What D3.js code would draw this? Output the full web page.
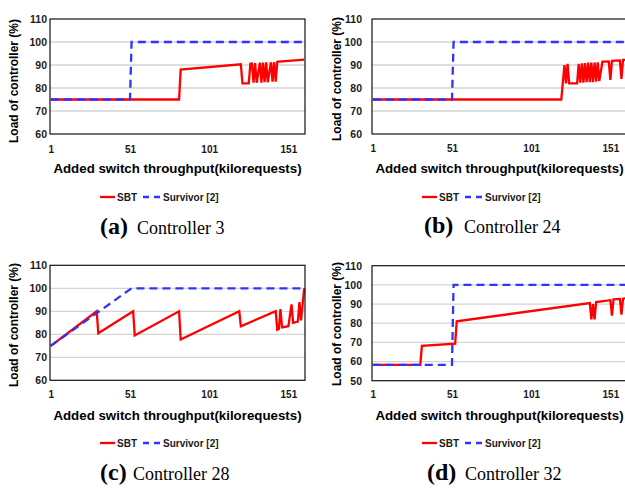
<!DOCTYPE html>
<html><head><meta charset="utf-8">
<script src="https://cdn.jsdelivr.net/npm/d3@7"></script>
<style>body{margin:0;background:#fff}</style>
</head><body><svg id="chart" width="625" height="488"></svg>
<script>
// ---------------- DATA ----------------
const categoryFirst = 1, categoryLast = 161;
const xTickLabels = [1, 51, 101, 151];
const yTicksA = [60, 70, 80, 90, 100, 110];
const yTicksB = [60, 70, 80, 90, 100, 110];
const yTicksC = [60, 70, 80, 90, 100, 110];
const yTicksD = [50, 60, 70, 80, 90, 100, 110];
const seriesNames = ["SBT", "Survivor [2]"];
const panelLetters = ["(a)", "(b)", "(c)", "(d)"];
const panelTitles = ["Controller 3", "Controller 24", "Controller 28", "Controller 32"];
const xTitle = "Added switch throughput(kilorequests)";
const yTitle = "Load of controller (%)";

// Controller 3
const sbtA_x = [1, 82, 83, 121, 122, 126, 127, 128, 129, 130, 131, 133, 134, 135, 136, 137, 138, 140, 141, 142, 143, 144, 145, 161];
const sbtA_y = [75, 75, 88, 90.3, 82, 82, 90.5, 90.6, 82.3, 90.8, 82.3, 91, 82.3, 91, 82.5, 91.2, 82.5, 91.2, 82.8, 91.3, 82.8, 91.4, 91.5, 92.3];
const survA_x = [1, 51, 52, 161];
const survA_y = [75, 75, 100, 100];

// Controller 24
const sbtB_x = [1, 120, 122, 123, 124, 125, 130, 131, 132, 133, 134, 135, 136, 137, 138, 139, 140, 141, 142, 143, 144, 146, 150, 151, 152, 157, 158, 159, 161];
const sbtB_y = [75, 75, 90, 82, 90.5, 82, 82, 90.5, 82.3, 90.7, 82.3, 90.8, 82.5, 91, 82.5, 91, 82.5, 91.1, 82.8, 91.2, 83, 91.5, 91.6, 83.5, 91.8, 92, 84, 92.2, 92.3];
const survB_x = [1, 51, 52, 161];
const survB_y = [75, 75, 100, 100];

// Controller 28
const sbtC_x = [1, 30, 31, 53, 54, 82, 83, 120, 121, 143, 144, 145, 146, 147, 151, 153, 154, 157, 158, 159, 161];
const sbtC_y = [75, 90, 80.5, 90, 79.5, 90, 77.7, 90, 83.5, 90, 82, 82.3, 91, 83, 83.5, 93, 85, 85.5, 94, 86, 100];
const survC_x = [1, 52, 161];
const survC_y = [75, 100, 100];

// Controller 32
const sbtD_x = [1, 31, 32, 53, 54, 138, 139, 140, 141, 142, 151, 152, 153, 157, 158, 159, 161];
const sbtD_y = [58.3, 58.3, 68.2, 69.3, 81, 90.5, 82, 90, 82, 91, 92, 84, 92.5, 92.7, 84.5, 92.8, 93];
const survD_x = [1, 51, 52, 161];
const survD_y = [58.3, 58.3, 100, 100];

// ---------------- LAYOUT ----------------
const panels = [
  {sx: sbtA_x, sy: sbtA_y, vx: survA_x, vy: survA_y, ticks: yTicksA, left: 50, top: 19, bottom: 134, ylabGap: 3, yTitleX: 14, yTitleY: 81, xTickBase: 153, xTitleBase: 173, legendY: 197, capBase: 234, capL: 100, capT: 137},
  {sx: sbtB_x, sy: sbtB_y, vx: survB_x, vy: survB_y, ticks: yTicksB, left: 372, top: 19, bottom: 134, ylabGap: 10, yTitleX: 337, yTitleY: 79, xTickBase: 152, xTitleBase: 173, legendY: 197, capBase: 233, capL: 424, capT: 464},
  {sx: sbtC_x, sy: sbtC_y, vx: survC_x, vy: survC_y, ticks: yTicksC, left: 50, top: 265.3, bottom: 380.3, ylabGap: 3, yTitleX: 14, yTitleY: 325, xTickBase: 398, xTitleBase: 420, legendY: 443, capBase: 480, capL: 100, capT: 133},
  {sx: sbtD_x, sy: sbtD_y, vx: survD_x, vy: survD_y, ticks: yTicksD, left: 372, top: 265.7, bottom: 380.7, ylabGap: 10, yTitleX: 337, yTitleY: 324, xTickBase: 398, xTitleBase: 420, legendY: 443, capBase: 480, capL: 427, capT: 465}
];
const plotW = 255;
const sansFont = "'Liberation Sans', Arial, sans-serif";
const serifFont = "'Liberation Serif', 'Times New Roman', serif";
const red = "#ff0000", blue = "#3333ff";

const svg = d3.select("#chart");

panels.forEach((p, i) => {
  const g = svg.append("g");
  const x = d3.scaleLinear().domain([categoryFirst - 0.5, categoryLast + 0.5]).range([p.left, p.left + plotW]);
  const yMin = d3.min(p.ticks), yMax = d3.max(p.ticks);
  const y = d3.scaleLinear().domain([yMin, yMax]).range([p.bottom, p.top]);

  // gridlines
  g.selectAll("line.grid").data(p.ticks.filter(t => t !== yMin && t !== yMax)).join("line")
    .attr("x1", p.left).attr("x2", p.left + plotW)
    .attr("y1", d => y(d)).attr("y2", d => y(d))
    .attr("stroke", "#d4d4d4").attr("stroke-width", 1.3);

  // y axis labels
  const ya = g.append("g").attr("transform", `translate(${p.left},0)`)
    .call(d3.axisLeft(y).tickValues(p.ticks).tickSize(0).tickPadding(p.ylabGap));
  ya.select(".domain").remove();
  ya.selectAll("text").attr("font-family", sansFont).attr("font-weight", "bold").attr("font-size", 10.5).attr("fill", "#1a1a1a");

  // x axis labels
  const xa = g.append("g").attr("transform", `translate(0,${p.bottom})`)
    .call(d3.axisBottom(x).tickValues(xTickLabels).tickSize(0).tickPadding(0));
  xa.select(".domain").remove();
  xa.selectAll("text").attr("dy", null).attr("y", p.xTickBase - p.bottom)
    .attr("font-family", sansFont).attr("font-weight", "bold").attr("font-size", 10).attr("fill", "#1a1a1a");

  // series
  const line = d3.line().x(d => x(d[0])).y(d => y(d[1]));
  g.append("path").datum(d3.zip(p.sx, p.sy)).attr("d", line)
    .attr("fill", "none").attr("stroke", red).attr("stroke-width", 2.3).attr("stroke-linejoin", "miter");
  g.append("path").datum(d3.zip(p.vx, p.vy)).attr("d", line)
    .attr("fill", "none").attr("stroke", blue).attr("stroke-width", 2.3).attr("stroke-dasharray", "8,5");

  // border
  g.append("rect").attr("x", p.left).attr("y", p.top).attr("width", plotW).attr("height", p.bottom - p.top)
    .attr("fill", "none").attr("stroke", "#111").attr("stroke-width", 1.2);

  // axis titles
  g.append("text").attr("x", p.left + plotW / 2).attr("y", p.xTitleBase).attr("text-anchor", "middle")
    .attr("font-family", sansFont).attr("font-weight", "bold").attr("font-size", 13.3).attr("fill", "#000").text(xTitle);
  g.append("text").attr("transform", `translate(${p.yTitleX},${p.yTitleY}) rotate(-90)`).attr("dy", "0.35em")
    .attr("text-anchor", "middle").attr("font-family", sansFont).attr("font-weight", "bold").attr("font-size", 12)
    .attr("fill", "#000").text(yTitle);

  // legend
  const lx = p.left + 50, ly = p.legendY;
  g.append("line").attr("x1", lx).attr("x2", lx + 15).attr("y1", ly).attr("y2", ly).attr("stroke", red).attr("stroke-width", 2.3);
  g.append("text").attr("x", lx + 17).attr("y", ly + 3.6).attr("font-family", sansFont).attr("font-weight", "bold")
    .attr("font-size", 10).attr("fill", "#1a1a1a").text(seriesNames[0]);
  g.append("line").attr("x1", lx + 43).attr("x2", lx + 62).attr("y1", ly).attr("y2", ly).attr("stroke", blue)
    .attr("stroke-width", 2.3).attr("stroke-dasharray", "6,5");
  g.append("text").attr("x", lx + 63).attr("y", ly + 3.6).attr("font-family", sansFont).attr("font-weight", "bold")
    .attr("font-size", 10).attr("fill", "#1a1a1a").text(seriesNames[1]);

  // caption
  g.append("text").attr("x", p.capL).attr("y", p.capBase).attr("font-family", serifFont).attr("font-weight", "bold")
    .attr("font-size", 24).attr("fill", "#000").text(panelLetters[i]);
  g.append("text").attr("x", p.capT).attr("y", p.capBase).attr("font-family", serifFont)
    .attr("font-size", 18).attr("fill", "#000").text(panelTitles[i]);
});
</script></body></html>
